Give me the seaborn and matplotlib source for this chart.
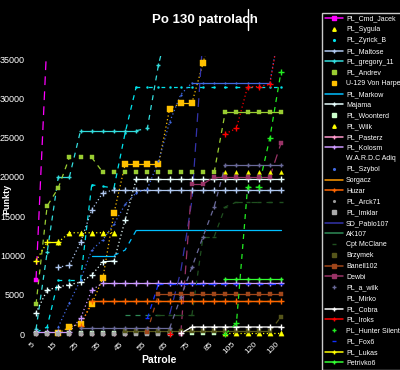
import numpy as np
import matplotlib
matplotlib.use("Agg")
import matplotlib.pyplot as plt
import seaborn as sns
from matplotlib.lines import Line2D

N = np.nan

# ---------------- data ----------------
patrole = [5, 10, 15, 20, 25, 30, 35, 40, 45, 50, 55, 60, 65, 70, 75, 80, 85,
           95, 105, 115, 120, 125, 130]
tick_labels = [str(p) for p in patrole[::2]]
y_ticks = [0, 5000, 10000, 15000, 20000, 25000, 30000, 35000]
title = "Po 130 patrolach"

cmd_jacek = [6900, 38000] + [N] * 21
sygula = [N, N, 11700, 12900, 12900, 12900, 12900, 12900] + [N] * 9 + [100] * 6
zyrick_b = [200, 900, 6900, 6900, 6900, 19000, 18800, 18600, 25600] + [31500] * 14
maltose = [N, N, 8500, 8800, 11700, 15800, 18000] + [18350] * 16
gregory_11 = [600, 10400, 20000, 20000, 25900, 25900, 25900, 25900, 25900, 25900,
              26200, 34300, 40000] + [N] * 10
andrev = [3800, 16300, 18600, 22500, 22500, 22500] + [20600] * 11 + [28300] * 6
u129 = [N, N, 100, 900, 1300, 3800, 7100, 15400, 21600, 21600, 21600, 21600,
        28700, 29400, 29400, 34500, 40000] + [N] * 6
markow = [N] * 5 + [10000, 10000, 10000, 10700] + [13200] * 14
majama = [2700, 5600, 6000, 6300, 6600, 7500, 9200, 9300, 14500] + [19700] * 14
woonterd = [150] * 17 + [N] * 6
wilk = [N] * 17 + [20600] * 6
pasterz = [50] * 9 + [N] * 14
kolosm = [300, 300, 300, 300, 2000, 5600] + [6500] * 17
wardc = [0] * 23
szybol = [N, N, 900, 4000, 6900, 10700, 12000, 14000, 16500, 18000, 18500, 22000,
          27000, 30500] + [32000] * 8 + [40000]
sorgacz = [N] * 5 + [4150] * 18
huzar = [N] * 4 + [1000] + [4200] * 18
arck71 = [250] * 13 + [N] * 10
imklar = [0] * 13 + [N] * 10
sd_pablo107 = [N] * 12 + [2500, 8000, 17000, 38000] + [N] * 7
ak107 = [N] * 8 + [2400] * 4 + [N] * 11
cpt_mcclane = [N] * 11 + [2400] * 4 + [12400, 12400, 16200] + [16800] * 5
brzymek = [N] * 8 + [350] * 14 + [2200]
banell102 = [N] * 10 + [300] + [5100] * 12
dewbi = [N] * 13 + [0, 19100, 19100] + [20000] * 6 + [24300]
a_wilk = [N] * 4 + [750] * 9 + [4700, 8500, 12400, 16200] + [21500] * 6
mirko = [0] * 23
cobra = [N] * 13 + [100] + [900] * 9
iroks = [N] * 12 + [50] + [N] * 4 + [25500, 26200, 31500, 31500, 31800, 40000]
hunter_silent = [N] * 17 + [0, 1400, 18700, 18700, 25000, 33400]
fox6 = [N] * 10 + [2000] + [6400] * 12
lukas = [9300, 11700, 11700] + [N] * 20
petrivko6 = [N] * 17 + [7000] * 6

series_names = ["PL_Cmd_Jacek", "PL_Sygula", "PL_Zyrick_B", "PL_Maltose",
                "PL_gregory_11", "PL_Andrev", "U-129 Von Harpe", "PL_Markow",
                "Majama", "PL_Woonterd", "PL_Wilk", "PL_Pasterz", "PL_Kolosm",
                "W.A.R.D.C Adiq", "PL_Szybol", "Sorgacz", "Huzar", "PL_Arck71",
                "PL_Imklar", "SD_Pablo107", "AK107", "Cpt McClane", "Brzymek",
                "Banell102", "Dewbi", "PL_a_wilk", "PL_Mirko", "PL_Cobra",
                "PL_Iroks", "PL_Hunter Silent", "PL_Fox6", "PL_Lukas", "Petrivko6"]
series_values = [cmd_jacek, sygula, zyrick_b, maltose, gregory_11, andrev, u129,
                 markow, majama, woonterd, wilk, pasterz, kolosm, wardc, szybol,
                 sorgacz, huzar, arck71, imklar, sd_pablo107, ak107, cpt_mcclane,
                 brzymek, banell102, dewbi, a_wilk, mirko, cobra, iroks,
                 hunter_silent, fox6, lukas, petrivko6]

# ---------------- styles ----------------
DOT = (0, (1, 2))
DASH = (0, (4, 4))
LDASH = (0, (7, 5))
SOL = "-"
# color, marker, marker size, rise style, flat style, legend shows line,
# first index from which flat segments are drawn
styles = {
    "PL_Cmd_Jacek": ("#ff00ff", "s", 10, LDASH, SOL, True, 0),
    "PL_Sygula": ("#ffff00", "^", 14, DOT, DOT, False, 0),
    "PL_Zyrick_B": ("#00e5ee", ".", 8, DASH, (0, (3, 7)), False, 0),
    "PL_Maltose": ("#b0c8f0", "+", 14, DOT, SOL, True, 0),
    "PL_gregory_11": ("#33dddd", "+", 12, DASH, SOL, True, 0),
    "PL_Andrev": ("#9acd32", "s", 10, DASH, SOL, False, 16),
    "U-129 Von Harpe": ("#ffc000", "s", 14, DOT, SOL, False, 0),
    "PL_Markow": ("#00bfff", None, 0, DASH, SOL, True, 0),
    "Majama": ("#e8ffff", "+", 14, DOT, SOL, True, 0),
    "PL_Woonterd": ("#ccffcc", "s", 8, None, None, False, 0),
    "PL_Wilk": ("#ffff00", "^", 8, None, None, False, 0),
    "PL_Pasterz": ("#ff99cc", "+", 8, None, None, True, 0),
    "PL_Kolosm": ("#cc99ff", "+", 14, DOT, SOL, True, 0),
    "W.A.R.D.C Adiq": ("#222222", None, 0, None, None, False, 0),
    "PL_Szybol": ("#4169e1", ".", 6, DOT, SOL, False, 0),
    "Sorgacz": ("#ff9900", None, 0, SOL, SOL, True, 0),
    "Huzar": ("#ff6600", "+", 14, DOT, SOL, True, 0),
    "PL_Arck71": ("#999999", ".", 4, None, None, False, 0),
    "PL_Imklar": ("#aaaaaa", "s", 8, None, None, False, 0),
    "SD_Pablo107": ("#3333aa", None, 0, LDASH, LDASH, True, 0),
    "AK107": ("#2e8b57", None, 0, DASH, DASH, True, 0),
    "Cpt McClane": ("#1f4f1f", "_", 10, DASH, (0, (5, 7)), False, 0),
    "Brzymek": ("#55551a", "s", 8, DASH, SOL, False, 0),
    "Banell102": ("#a0461a", "s", 12, DASH, SOL, True, 0),
    "Dewbi": ("#993366", "s", 12, LDASH, SOL, True, 0),
    "PL_a_wilk": ("#6a6a9a", "+", 12, DASH, SOL, False, 0),
    "PL_Mirko": ("#000000", None, 0, None, None, False, 0),
    "PL_Cobra": ("#ffffff", "+", 14, SOL, SOL, True, 0),
    "PL_Iroks": ("#ff0000", "+", 14, DOT, DOT, True, 0),
    "PL_Hunter Silent": ("#22ee22", "+", 14, DASH, DASH, False, 0),
    "PL_Fox6": ("#1030ff", "_", 12, DASH, (0, (4, 6)), False, 0),
    "PL_Lukas": ("#ffff00", "+", 14, DOT, SOL, True, 0),
    "Petrivko6": ("#33ff33", "+", 10, SOL, SOL, True, 0),
}

# ---------------- figure ----------------
sns.set_style("dark", {"axes.facecolor": "black", "figure.facecolor": "black"})
plt.rcParams["font.family"] = ["Liberation Sans", "DejaVu Sans"]

fig = plt.figure(figsize=(4.0, 3.7), dpi=100, facecolor="black")
ax = fig.add_axes([0.08, 0.0865, 0.6325, 0.762])
ax.set_facecolor("black")


def runs(vals, rise, flat, flat_from):
    segs = []
    for k in range(len(vals) - 1):
        a, b = vals[k], vals[k + 1]
        if np.isnan(a) or np.isnan(b):
            continue
        if abs(b - a) < 300:
            st = flat if k >= flat_from else None
        else:
            st = rise
        if st is None:
            continue
        if segs and segs[-1][0] == st and segs[-1][1][-1] == k:
            segs[-1][1].append(k + 1)
        else:
            segs.append([st, [k, k + 1]])
    return segs


positions = np.arange(len(patrole))
handles = []
for name, vals in zip(series_names, series_values):
    vals = np.array(vals, dtype=float)
    color, marker, msize, rise, flat, leg_line, flat_from = styles[name]
    for st, ks in runs(vals, rise, flat, flat_from):
        sns.lineplot(x=positions[ks], y=vals[ks], ax=ax, color=color,
                     linestyle=st, linewidth=0.9, sort=False, estimator=None,
                     errorbar=None, legend=False)
    if marker is not None:
        ok = ~np.isnan(vals)
        if marker in ("+", "_"):
            sns.scatterplot(x=positions[ok], y=vals[ok], ax=ax, marker=marker,
                            s=msize, color=color, linewidth=1.0, legend=False,
                            zorder=3)
        else:
            sns.scatterplot(x=positions[ok], y=vals[ok], ax=ax, marker=marker,
                            s=msize, color=color, edgecolor=color,
                            linewidth=0.3, legend=False, zorder=3)
    handles.append(Line2D([], [], color=color,
                          linestyle="-" if leg_line else "none",
                          marker=marker if marker else None,
                          markersize=2.5, linewidth=1.1))

ax.set_xlim(-0.36, 22.36)
ax.set_ylim(-500, 35400)
ax.set_xticks(positions[::2])
ax.set_xticklabels(tick_labels, rotation=45, ha="right", color="white",
                   fontsize=6)
ax.set_yticks(y_ticks)
ax.set_yticklabels([str(v) for v in y_ticks], color="white", fontsize=6.5)
ax.tick_params(axis="y", length=3, color="white", pad=2)
ax.tick_params(axis="x", length=0, pad=2)
for sp in ax.spines.values():
    sp.set_visible(False)
ax.grid(False)
ax.set_xlabel("Patrole", color="white", fontsize=7.5, fontweight="bold")
ax.set_ylabel("Punkty", color="white", fontsize=6.5, fontweight="bold")
ax.xaxis.set_label_coords(0.5, -0.062)
ax.yaxis.set_label_coords(-0.082, 0.492)

fig.text(0.512, 0.946, title, color="white", fontsize=9.5, fontweight="bold",
         ha="center", va="center")
fig.add_artist(Line2D([0.621, 0.621], [0.918, 0.975], color="white",
                      linewidth=1.0, transform=fig.transFigure))

leg = fig.legend(handles, series_names, loc="upper left",
                 bbox_to_anchor=(0.805, 0.966), frameon=True,
                 facecolor="black", edgecolor="white", fontsize=5.0,
                 labelspacing=0.54, handlelength=2.6, handletextpad=0.4,
                 borderpad=0.45, borderaxespad=0, fancybox=False)
leg.get_frame().set_linewidth(1.0)
for t in leg.get_texts():
    t.set_color("white")

fig.savefig("out.png", dpi=100, facecolor="black")
